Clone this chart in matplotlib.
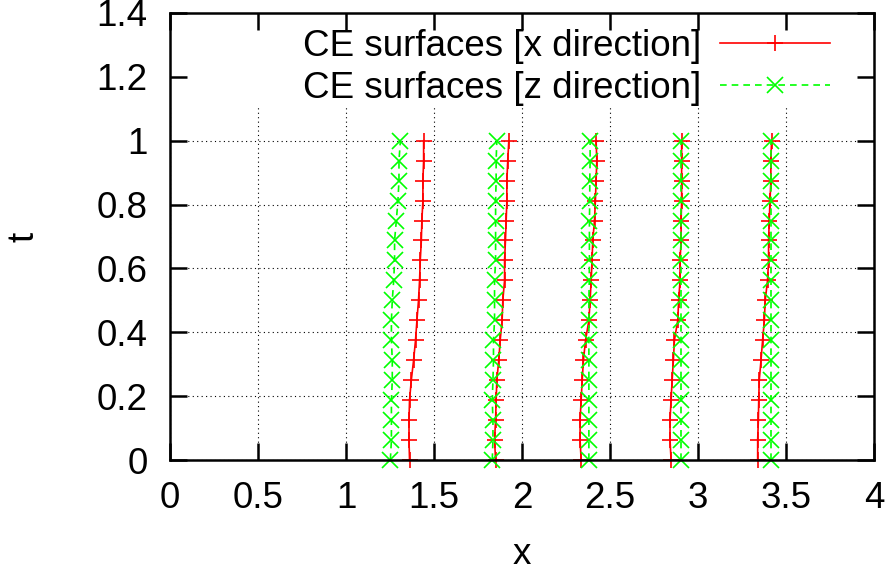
import matplotlib
matplotlib.use("Agg")
import matplotlib.pyplot as plt
from matplotlib.patches import Rectangle

plt.rcParams['font.family'] = ['Liberation Sans', 'DejaVu Sans']

t = [0.0, 0.0625, 0.125, 0.1875, 0.25, 0.3125, 0.375, 0.4375, 0.5,
     0.5625, 0.625, 0.6875, 0.75, 0.8125, 0.875, 0.9375, 1.0]

x_dir = [
    [1.361, 1.358, 1.358, 1.361, 1.371, 1.384, 1.395, 1.403, 1.412, 1.418, 1.422, 1.428, 1.431, 1.437, 1.437, 1.441, 1.441],
    [1.850, 1.844, 1.850, 1.853, 1.857, 1.868, 1.876, 1.887, 1.891, 1.901, 1.901, 1.906, 1.910, 1.914, 1.914, 1.919, 1.925],
    [2.336, 2.330, 2.330, 2.336, 2.342, 2.349, 2.361, 2.380, 2.387, 2.393, 2.398, 2.402, 2.412, 2.417, 2.421, 2.425, 2.421],
    [2.847, 2.841, 2.841, 2.847, 2.853, 2.860, 2.866, 2.885, 2.890, 2.898, 2.898, 2.904, 2.904, 2.907, 2.907, 2.907, 2.907],
    [3.339, 3.339, 3.343, 3.345, 3.348, 3.358, 3.367, 3.377, 3.382, 3.395, 3.401, 3.401, 3.405, 3.409, 3.414, 3.414, 3.418],
]
z_dir = [
    [1.252, 1.258, 1.258, 1.258, 1.263, 1.263, 1.258, 1.258, 1.263, 1.271, 1.276, 1.276, 1.286, 1.295, 1.301, 1.301, 1.309],
    [1.831, 1.835, 1.835, 1.831, 1.835, 1.838, 1.838, 1.844, 1.844, 1.844, 1.850, 1.850, 1.850, 1.850, 1.853, 1.853, 1.857],
    [2.380, 2.380, 2.380, 2.380, 2.380, 2.380, 2.380, 2.380, 2.380, 2.382, 2.383, 2.383, 2.383, 2.385, 2.385, 2.387, 2.387],
    [2.903, 2.903, 2.903, 2.903, 2.903, 2.903, 2.903, 2.903, 2.903, 2.903, 2.903, 2.903, 2.903, 2.903, 2.903, 2.903, 2.903],
    [3.416, 3.416, 3.416, 3.416, 3.416, 3.416, 3.416, 3.416, 3.416, 3.416, 3.416, 3.416, 3.416, 3.416, 3.416, 3.416, 3.416],
]

labels = ["CE surfaces [x direction]", "CE surfaces [z direction]"]
xticks = [0, 0.5, 1, 1.5, 2, 2.5, 3, 3.5, 4]
xticklabels = ["0", "0.5", "1", "1.5", "2", "2.5", "3", "3.5", "4"]
yticks = [0, 0.2, 0.4, 0.6, 0.8, 1.0, 1.2, 1.4]
yticklabels = ["0", "0.2", "0.4", "0.6", "0.8", "1", "1.2", "1.4"]

fig = plt.figure(figsize=(8.9, 5.72), dpi=100)
pos = [170 / 890, (572 - 460) / 572, (874 - 170) / 890, (460 - 13) / 572]

# background axes: grid + opaque key area
axg = fig.add_axes(pos, zorder=0)
axg.set_xlim(0, 4)
axg.set_ylim(0, 1.4)
axg.set_xticks(xticks)
axg.set_yticks(yticks)
axg.tick_params(length=0, labelbottom=False, labelleft=False)
for s in axg.spines.values():
    s.set_visible(False)
axg.grid(True, color='black', linestyle=(0, (1, 3)), linewidth=0.8)
axg.add_patch(Rectangle((0, (460 - 105) / 447), 1, 1, transform=axg.transAxes,
                        facecolor='white', edgecolor='none', zorder=4))

# main axes
ax = fig.add_axes(pos, zorder=1)
ax.patch.set_alpha(0)
fs = 26.5
hx = hz = None
for xs in x_dir:
    l, = ax.plot(xs, t, color='#ff0000', linewidth=1.2, marker='+',
                 markersize=12, markeredgewidth=1.2, clip_on=False)
    hx = hx or l
for zs in z_dir:
    l, = ax.plot(zs, t, color='#00ff00', linewidth=1.2, linestyle=(0, (4, 3)),
                 marker='x', markersize=12, markeredgewidth=1.2, clip_on=False)
    hz = hz or l

ax.set_xlim(0, 4)
ax.set_ylim(0, 1.4)
ax.set_xticks(xticks)
ax.set_xticklabels(xticklabels, fontsize=fs)
ax.set_yticks(yticks)
ax.set_yticklabels(yticklabels, fontsize=fs)
ax.tick_params(direction='in', length=12, width=1.8, top=True, right=True)
ax.tick_params(axis='x', pad=15)
ax.tick_params(axis='y', pad=16)
for s in ax.spines.values():
    s.set_linewidth(1.8)
ax.set_xlabel("x", fontsize=fs, labelpad=15)
ax.set_ylabel("t", fontsize=fs, labelpad=40)

leg = axg.legend([hx, hz], labels, loc='upper right', fontsize=fs,
                 markerfirst=False, frameon=False,
                 handlelength=3.0, handletextpad=0.5, labelspacing=0.2,
                 borderpad=0, borderaxespad=0,
                 bbox_to_anchor=((830 - 170) / 704, (460 - 29) / 447))
leg.set_zorder(10)

fig.savefig("out.png", dpi=100)
